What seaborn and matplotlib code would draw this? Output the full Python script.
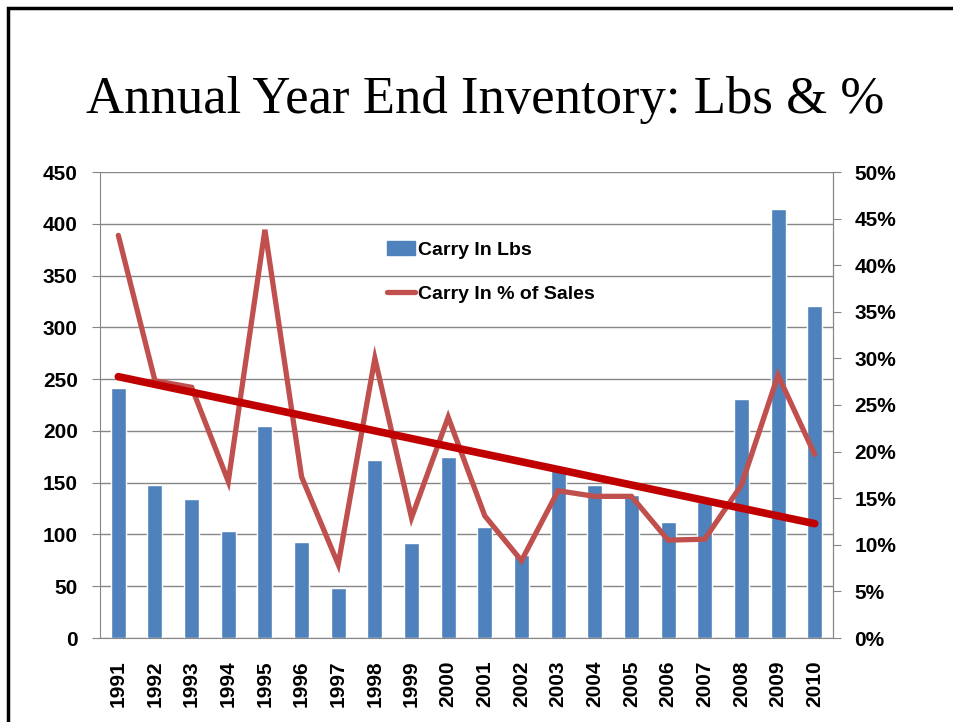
import numpy as np
import pandas as pd
import matplotlib
matplotlib.use('Agg')
import matplotlib.pyplot as plt
from matplotlib.patches import Rectangle
from matplotlib.lines import Line2D
from matplotlib.ticker import FuncFormatter, FixedLocator
import seaborn as sns

sns.set_style('white')
plt.rcParams['font.family'] = ['Liberation Sans', 'DejaVu Sans']
plt.rcParams['font.weight'] = 'bold'
plt.rcParams['text.color'] = 'black'

years = [str(y) for y in range(1991, 2011)]
carry_lbs = [241, 148, 134, 103, 205, 93, 48, 172, 92, 175,
             107, 80, 162, 148, 138, 112, 131, 231, 414, 321]
carry_pct = [43.2, 27.6, 26.9, 16.8, 43.8, 17.3, 7.9, 30.0, 12.9, 23.7,
             13.1, 8.3, 15.8, 15.2, 15.2, 10.5, 10.6, 16.4, 28.2, 19.7]

df = pd.DataFrame({'Year': years, 'Lbs': carry_lbs, 'Pct': carry_pct})
df['pos'] = np.arange(len(df))

# linear trend of the % series, like the spreadsheet trendline
slope, icpt = np.polyfit(df['pos'], df['Pct'], 1)
df['Trend'] = icpt + slope * df['pos']

blue = '#4F81BD'
red = '#C0504D'
dark_red = '#C00000'
grid_c = '#868686'

fig = plt.figure(figsize=(9.54, 7.22), dpi=100)
ax = fig.add_axes([100/954, 1-638/722, 733/954, 466/722])

sns.barplot(data=df, x='Year', y='Lbs', color=blue, width=0.41, saturation=1, ax=ax)
ax.set_xlim(-0.5, 19.5)
ax.set_ylim(0, 450)
ax.set_yticks(range(0, 451, 50))
ax.set_xlabel('')
ax.set_ylabel('')
ax.grid(axis='y', color=grid_c, lw=1)
ax.set_axisbelow(True)
for s in ['left', 'bottom', 'right']:
    ax.spines[s].set_color(grid_c)
ax.spines['top'].set_visible(False)
ax.tick_params(axis='y', length=6, color=grid_c, labelsize=15, labelcolor='black', pad=10)
ax.tick_params(axis='x', which='major', length=0, labelsize=15, labelcolor='black',
               pad=16, labelrotation=90)
ax.xaxis.set_minor_locator(FixedLocator(np.arange(-0.5, 20, 1)))
ax.tick_params(axis='x', which='minor', length=7, color=grid_c)

ax2 = ax.twinx()
sns.lineplot(data=df, x='pos', y='Pct', color=red, lw=3.8, ax=ax2)
sns.lineplot(data=df, x='pos', y='Trend', color=dark_red, lw=5.5, ax=ax2)
for ln in ax2.get_lines():
    ln.set_solid_capstyle('round')
    ln.set_solid_joinstyle('miter')
ax2.set_ylim(0, 50)
ax2.set_yticks(range(0, 51, 5))
ax2.yaxis.set_major_formatter(FuncFormatter(lambda v, p: f'{v:.0f}%'))
ax2.set_ylabel('')
ax2.set_xlabel('')
for s in ['left', 'top', 'bottom']:
    ax2.spines[s].set_visible(False)
ax2.spines['right'].set_color(grid_c)
ax2.tick_params(axis='y', length=6, color=grid_c, labelsize=15, labelcolor='black', pad=9.5)
ax.set_xlim(-0.5, 19.5)
ax2.set_xlim(-0.5, 19.5)

handles = [Rectangle((0, 0), 1, 1, color=blue),
           Line2D([], [], color=red, lw=3.8, solid_capstyle='round')]
fig.legend(handles, ['Carry In Lbs', 'Carry In % of Sales'],
           loc='upper left', bbox_to_anchor=(370/954, 1-224/722),
           frameon=False, handlelength=1.4, handletextpad=0.15, labelcolor='black',
           labelspacing=1.35, prop={'weight': 'bold', 'size': 14})

fig.text(485/954, 1-100/722, 'Annual Year End Inventory: Lbs & %',
         ha='center', va='center', fontsize=38, fontweight='normal',
         color='black', family='Liberation Serif')

fig.patches.append(Rectangle((8/954, -0.1), 1.2, 1.1 - 8/722,
                             transform=fig.transFigure, fill=False,
                             edgecolor='black', lw=2.5))

fig.savefig('out.png', dpi=100)
